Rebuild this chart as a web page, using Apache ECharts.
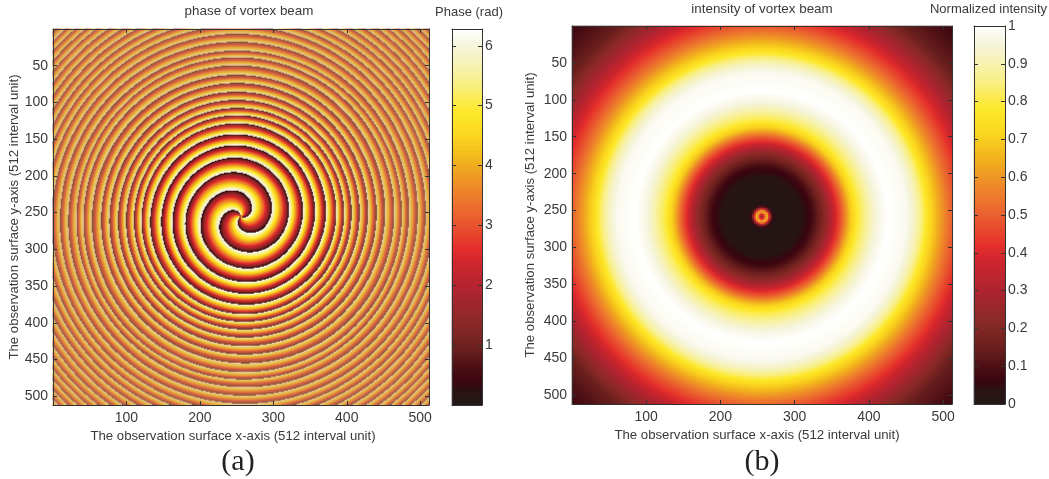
<!DOCTYPE html>
<html><head><meta charset="utf-8">
<style>html,body{margin:0;padding:0;background:#fff}#c{width:1049px;height:479px}</style>
<script src="https://cdn.jsdelivr.net/npm/echarts@6/dist/echarts.min.js"></script>
</head><body><div id="c"></div>
<script>
// Values (data units, 0-512 axis).
// NOTE: the rasters are reconstructed from these radial readings, not read per cell.
const xTicks = [100,200,300,400,500];
const yTicks = [50,100,150,200,250,300,350,400,450,500];
const phaseTicks = [1,2,3,4,5,6];
const intensityTicks = [0,0.1,0.2,0.3,0.4,0.5,0.6,0.7,0.8,0.9,1];
// radii of the successive dark phase-wrap rings on the upward ray
const ringRadii = [0,34,60,80,97,112,127,138,148,159,170,182,193,206,217,226,238,249,260,270,280,290,300,310,320,329,338,347,356,365,374];
// three spiral arms meet at the centre
const armCount = 3;
// radial intensity profile
const intensityRadii = [0,3,7,10,13,16,20,40,53,66,74,85,95,108,119,130,145,155,170,195,205,215,224,240,256,290,320,365];
const intensityValues = [0.2,0.4,0.68,0.4,0.12,0.03,0.02,0.02,0.03,0.07,0.13,0.22,0.33,0.5,0.68,0.8,0.9,0.96,1,0.98,0.93,0.85,0.75,0.62,0.5,0.3,0.15,0.06];
// how far the fine rings are washed out in the reproduced image
const washRadii = [0,110,150,200,256,365];
const washValues = [0,0.02,0.2,0.35,0.42,0.5];

const PHASE_MAX = 6.28;
const colormap = ['#231a18','#2a1214','#3a0510','#4d1015','#6b201e','#8a2a28','#ad2430','#d0262e','#e5302c','#ea6030','#ef8a2a','#f0ae1e','#fbd81f','#fde82a','#f9ef80','#f7f2b0','#f5f3d8','#ffffff'];
const colormapStops = [0,0.04,0.06,0.1,0.15,0.22,0.3,0.38,0.42,0.5,0.58,0.64,0.72,0.78,0.85,0.9,0.95,1];
const TEXT = '#3a3a3a', LINE = '#333333', FONT = '"Liberation Sans",Arial,sans-serif';

function hex(c){return [1,3,5].map(k=>parseInt(c.substr(k,2),16));}
function ramp(n){
  const out=[];
  for(let i=0;i<n;i++){
    const t=i/(n-1); let k=0;
    while(k<colormapStops.length-2&&t>colormapStops[k+1])k++;
    const f=(t-colormapStops[k])/(colormapStops[k+1]-colormapStops[k]);
    const a=hex(colormap[k]),b=hex(colormap[k+1]);
    out.push('rgb('+a.map((v,q)=>Math.round(v+(b[q]-v)*f)).join(',')+')');
  }
  return out;
}
const colors = ramp(128);

function lookup(xs,ys,x){
  if(x<=xs[0])return ys[0];
  for(let i=1;i<xs.length;i++) if(x<=xs[i]) return ys[i-1]+(ys[i]-ys[i-1])*(x-xs[i-1])/(xs[i]-xs[i-1]);
  return ys[ys.length-1];
}
const ringIndex = ringRadii.map((_,i)=>i);

function cats(n){return Array.from({length:n},(_,i)=>i);}
const PN=376, WN=188, INX=190, INY=189;
const phaseCells=[], washCells=[], intensityCells=[];
for(let j=0;j<PN;j++)for(let i=0;i<PN;i++){
  const dx=(i+.5)*512/PN-256, dy=(j+.5)*512/PN-256, r=Math.hypot(dx,dy);
  const th=Math.atan2(dy,dx)+Math.PI/2;
  let p=(-armCount*th-2*Math.PI*lookup(ringRadii,ringIndex,r))%(2*Math.PI);
  if(p<0)p+=2*Math.PI;
  // the reproduction softens the wrap, so the dark part of each band reads thinner
  const soft=PHASE_MAX*Math.pow(Math.min(p,PHASE_MAX)/PHASE_MAX,0.85);
  phaseCells.push([i,j,soft]);
}
for(let j=0;j<WN;j++)for(let i=0;i<WN;i++){
  const dx=(i+.5)*512/WN-256, dy=(j+.5)*512/WN-256;
  washCells.push([i,j,lookup(washRadii,washValues,Math.hypot(dx,dy))]);
}
for(let j=0;j<INY;j++)for(let i=0;i<INX;i++){
  const dx=(i+.5)*512/INX-256, dy=(j+.5)*512/INY-258.5;
  intensityCells.push([i,j,lookup(intensityRadii,intensityValues,Math.hypot(dx,dy))]);
}
const BARP=188, BARI=189;
const phaseBar=cats(BARP).map(j=>[0,j,(j+.5)/BARP*PHASE_MAX]);
const intensityBar=cats(BARI).map(j=>[0,j,(j+.5)/BARI]);

const grids=[
 {left:53,top:29,width:376,height:376},
 {left:452,top:29,width:30,height:376},
 {left:572,top:26,width:380,height:378},
 {left:974,top:26,width:31,height:378}
];
const xAxes=[], yAxes=[];
const lbl={color:TEXT,fontFamily:FONT,fontSize:14};
const nameStyle={color:TEXT,fontFamily:FONT,fontSize:13.2};
function boxAxis(g,pos,o){
  return Object.assign({type:'value',gridIndex:g,position:pos,z:6,scale:false,
    axisLine:{show:true,onZero:false,lineStyle:{color:LINE,width:1}},
    axisTick:{show:!!o.ticks,inside:true,length:4,lineStyle:{color:LINE,width:1}},
    splitLine:{show:false},minorTick:{show:false},
    axisLabel:{show:!!o.labels,margin:o.margin||5,hideOverlap:false,showMinLabel:true,showMaxLabel:true,...lbl,
      formatter:v=>{const ok=(o.labels||[]).some(t=>Math.abs(t-v)<1e-6);return ok?String(+v.toFixed(1)):'';}},
    min:o.min,max:o.max,interval:o.interval,inverse:!!o.inverse},o.extra||{});
}
function hiddenCat(g,n,inverse){
  return {type:'category',gridIndex:g,show:false,data:cats(n),inverse:!!inverse,boundaryGap:true};
}
const xN=[PN,1,INX,1], yN=[PN,BARP,INY,BARI];
const catIdx=[];
grids.forEach((_,g)=>{
  catIdx[g]=xAxes.length;
  xAxes.push(hiddenCat(g,xN[g],false));
  yAxes.push(hiddenCat(g,yN[g],g%2===0));
  if(g%2===0){
    const xname={name:'The observation surface x-axis (512 interval unit)',nameLocation:'middle',nameGap:24,
      nameTextStyle:{...nameStyle,padding:[0,g===0?16:10,0,0]}};
    const yname={name:'The observation surface y-axis (512 interval unit)',nameLocation:'middle',nameGap:g===0?31:35,
      nameTextStyle:{...nameStyle}};
    xAxes.push(boxAxis(g,'bottom',{ticks:true,labels:xTicks,min:0,max:512,interval:100,margin:6,extra:xname}));
    xAxes.push(boxAxis(g,'top',{ticks:true,min:0,max:512,interval:100}));
    yAxes.push(boxAxis(g,'left',{ticks:true,labels:yTicks,min:0,max:512,interval:50,inverse:true,extra:yname}));
    yAxes.push(boxAxis(g,'right',{ticks:true,min:0,max:512,interval:50,inverse:true}));
  }else{
    const isPhase=g===1;
    xAxes.push(boxAxis(g,'bottom',{min:0,max:1,interval:1}));
    xAxes.push(boxAxis(g,'top',{min:0,max:1,interval:1}));
    const o=isPhase?{labels:phaseTicks,min:0,max:PHASE_MAX,interval:1}:{labels:intensityTicks,min:0,max:1,interval:0.1};
    yAxes.push(boxAxis(g,'right',{ticks:true,...o,margin:3}));
    yAxes.push(boxAxis(g,'left',{ticks:true,min:o.min,max:o.max,interval:o.interval}));
  }
});
// the coarser wash layer has its own hidden category axes on the first grid
const washAxis=xAxes.length;
xAxes.push(hiddenCat(0,WN,false));
yAxes.push(hiddenCat(0,WN,true));
function hm(name,data,xi,yi){
  return {type:'heatmap',name,data,xAxisIndex:xi,yAxisIndex:yi,progressive:0,animation:false,silent:true,
    itemStyle:{borderWidth:0},emphasis:{disabled:true}};
}
const series=[
  hm('phase',phaseCells,catIdx[0],catIdx[0]),
  hm('wash',washCells,washAxis,washAxis),
  hm('phase bar',phaseBar,catIdx[1],catIdx[1]),
  hm('intensity',intensityCells,catIdx[2],catIdx[2]),
  hm('intensity bar',intensityBar,catIdx[3],catIdx[3])
];
series[1].z=3;

function t(text,cx,top,size,family,color){
  return {text,left:cx,top,textAlign:'center',padding:0,textStyle:{fontSize:size,fontWeight:'normal',fontFamily:family||FONT,color:color||TEXT}};
}
const option={
  animation:false,backgroundColor:'#fff',
  title:[
    t('phase of vortex beam',249,5,13.4),
    t('Phase (rad)',469,6,13),
    t('intensity of vortex beam',762,3,13.4),
    t('Normalized intensity',988.5,3,13),
    t('(a)',238,447,30,'"Liberation Serif",serif','#222'),
    t('(b)',762,447,30,'"Liberation Serif",serif','#222')
  ],
  grid:grids,xAxis:xAxes,yAxis:yAxes,
  visualMap:[
    {show:false,type:'continuous',seriesIndex:[0,2],min:0,max:PHASE_MAX,inRange:{color:colors}},
    {show:false,type:'continuous',seriesIndex:[1],min:0,max:1,inRange:{color:['rgba(215,150,90,0)','rgba(215,150,90,1)']}},
    {show:false,type:'continuous',seriesIndex:[3,4],min:0,max:1,inRange:{color:colors}}
  ],
  tooltip:{show:false},
  series
};
const chart=echarts.init(document.getElementById('c'),null,{renderer:'canvas'});
chart.setOption(option);
</script></body></html>
